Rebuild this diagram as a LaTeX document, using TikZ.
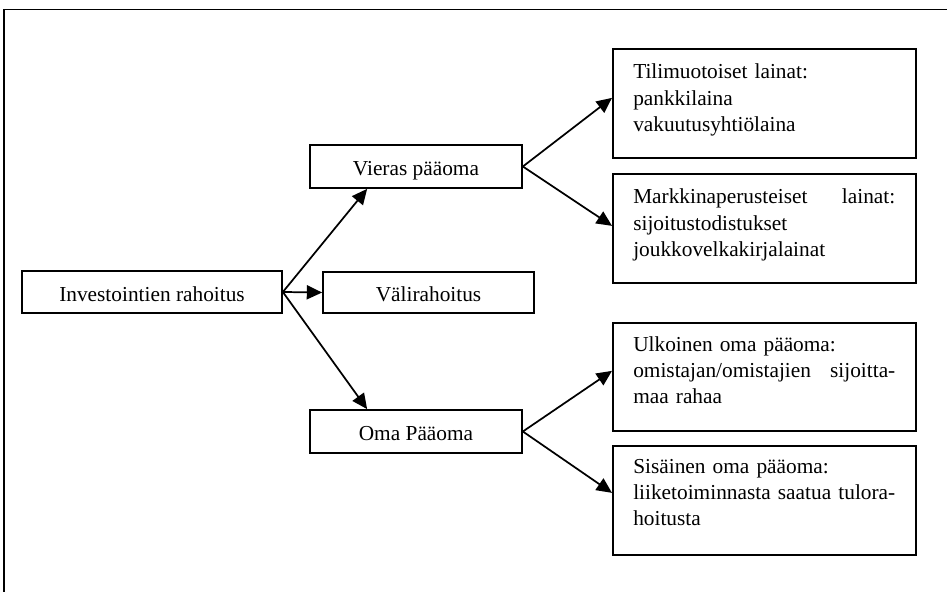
\documentclass[tikz,border=0pt]{standalone}
\usepackage{fontspec}
\setmainfont{Liberation Serif}
\usetikzlibrary{arrows.meta,calc}
\begin{document}
\begin{tikzpicture}[x=0.75pt,y=-0.75pt,
  box/.style={draw, line width=1.3pt, inner sep=0pt, font=\fontsize{16pt}{19.7pt}\selectfont, text height=14pt, text depth=0pt},
  bigbox/.style={draw, line width=1.3pt, inner sep=0pt, anchor=north west, minimum width=227.25pt, minimum height=81.75pt},
  body/.style={inner sep=0pt, anchor=base west, text width=196.5pt, align=left, font=\fontsize{16pt}{19.7pt}\selectfont},
  arr/.style={line width=1.3pt, -{Triangle[length=11.5pt,width=10.5pt]}}]
\useasboundingbox (0,0) rectangle (947,592);
\fill[white] (0,0) rectangle (947,592);
\draw[line width=1.4pt] (4,592) -- (4,9.5) -- (947,9.5);

\node[box, minimum width=195pt, minimum height=31.5pt] (inv) at (152,292) {Investointien rahoitus};
\node[box, minimum width=158.25pt, minimum height=30.75pt] (vali) at (428.5,292.5) {Välirahoitus};
\node[box, minimum width=159pt, minimum height=32.25pt] (vieras) at (416,166.5) {Vieras pääoma};
\node[box, minimum width=159pt, minimum height=32.25pt] (oma) at (416,431.5) {Oma Pääoma};

\node[bigbox] (tili) at (612,48) {};
\node[bigbox] (markk) at (612,173) {};
\node[bigbox, minimum height=81pt] (ulk) at (612,322) {};
\node[bigbox] (sis) at (612,445) {};

\node[body] (tiliT) at ($(tili.north west)+(21,31)$) {Tilimuotoiset lainat:\\pankkilaina\\vakuutusyhtiölaina};
\node[body] (markkT) at ($(markk.north west)+(21,31)$) {\makebox[196.5pt][l]{Markkinaperusteiset\hfill lainat:}\\sijoitustodistukset\\joukkovelkakirjalainat};
\node[body] (ulkT) at ($(ulk.north west)+(21,29)$) {Ulkoinen oma pääoma:\\\makebox[196.5pt][l]{omistajan/omistajien\hfill sijoitta-}\\maa rahaa};
\node[body] (sisT) at ($(sis.north west)+(21,28)$) {Sisäinen oma pääoma:\\\makebox[196.5pt][l]{liiketoiminnasta\hfill saatua\hfill tulora-}\\hoitusta};

\draw[arr] (inv.east) -- ($(vieras.south west)+(58,0)$);
\draw[arr] (inv.east) -- (vali.west);
\draw[arr] (inv.east) -- ($(oma.north west)+(58,0)$);
\draw[arr] (vieras.east) -- ($(tili.west)+(0,-5.5)$);
\draw[arr] (vieras.east) -- ($(markk.west)+(0,-2.5)$);
\draw[arr] (oma.east) -- ($(ulk.west)+(0,-6)$);
\draw[arr] (oma.east) -- ($(sis.west)+(0,-7.5)$);
\end{tikzpicture}
\end{document}
